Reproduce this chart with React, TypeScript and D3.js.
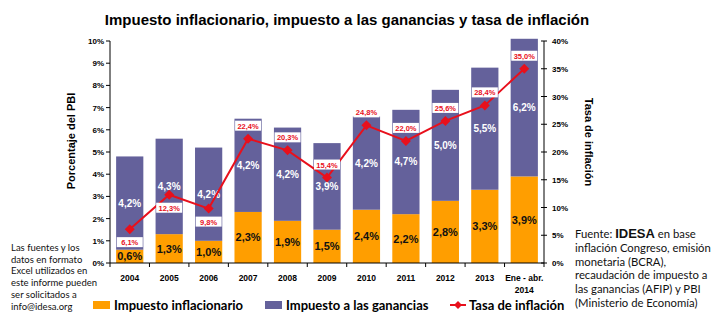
import React from "react";
import * as d3 from "d3";

const categories = ["2004", "2005", "2006", "2007", "2008", "2009", "2010", "2011", "2012", "2013", "Ene - abr.|2014"];
const impuestoInflacionario = [0.6, 1.3, 1.0, 2.3, 1.9, 1.5, 2.4, 2.2, 2.8, 3.3, 3.9];
const impuestoGanancias = [4.2, 4.3, 4.2, 4.2, 4.2, 3.9, 4.2, 4.7, 5.0, 5.5, 6.2];
const tasaInflacion = [6.1, 12.3, 9.8, 22.4, 20.3, 15.4, 24.8, 22.0, 25.6, 28.4, 35.0];
const inflLabelBelow = [true, true, true, false, false, false, false, false, false, false, false];
const leftTicks = [0, 1, 2, 3, 4, 5, 6, 7, 8, 9, 10];
const rightTicks = [0, 5, 10, 15, 20, 25, 30, 35, 40];
const noteLines = ["Las fuentes y los", "datos en formato", "Excel utilizados en", "este informe pueden", "ser solicitados a", "info@idesa.org"];
const sourceLines = ["inflación Congreso, emisión", "monetaria (BCRA),", "recaudación de impuesto a", "las ganancias (AFIP) y PBI", "(Ministerio de Economía)"];

const ORANGE = "#FF9E00";
const PURPLE = "#64619B";
const RED = "#E8101C";
const fmt = (v: number) => v.toFixed(1).replace(".", ",") + "%";

export default function App() {
  const W = 713, H = 324;
  const left = 110, right = 544, top = 41, bottom = 263;
  const x = d3.scaleBand<string>().domain(categories).range([left, right]).paddingInner(0.31).paddingOuter(0.155);
  const yL = d3.scaleLinear().domain([0, 10]).range([bottom, top]);
  const yR = d3.scaleLinear().domain([0, 40]).range([bottom, top]);
  const step = x.step();
  const bw = x.bandwidth();
  const cx = (c: string) => (x(c) as number) + bw / 2;
  const line = d3.line<number>().x((_, i) => cx(categories[i])).y((d) => yR(d));
  const arial = "'Liberation Sans', Arial, sans-serif";
  const cal = "Lato, 'Open Sans', sans-serif";

  return (
    <svg width={W} height={H} style={{ position: "absolute", left: 0, top: 0, background: "#fff" }}>
      <text x={347} y={25} textAnchor="middle" fontFamily={arial} fontWeight="bold" fontSize={15}>
        Impuesto inflacionario, impuesto a las ganancias y tasa de inflación
      </text>

      {/* bars */}
      {categories.map((c, i) => {
        const a = impuestoInflacionario[i];
        const b = impuestoGanancias[i];
        return (
          <g key={c}>
            <rect x={x(c)} y={yL(a)} width={bw} height={yL(0) - yL(a)} fill={ORANGE} />
            <rect x={x(c)} y={yL(a + b)} width={bw} height={yL(0) - yL(b)} fill={PURPLE} />
            <text x={cx(c)} y={yL(a / 2) + 4} textAnchor="middle" fontFamily={arial} fontWeight="bold" fontSize={11} fill="#111">
              {fmt(a)}
            </text>
            <text x={cx(c)} y={yL(a + b / 2) + 3.5} textAnchor="middle" fontFamily={arial} fontWeight="bold" fontSize={10} fill="#fff">
              {fmt(b)}
            </text>
          </g>
        );
      })}

      {/* axes */}
      <line x1={left} x2={left} y1={top} y2={bottom} stroke="#000" />
      <line x1={right} x2={right} y1={top} y2={bottom} stroke="#000" />
      <line x1={left} x2={right} y1={bottom} y2={bottom} stroke="#000" />
      {leftTicks.map((t) => (
        <g key={"l" + t}>
          <line x1={left - 4} x2={left} y1={yL(t)} y2={yL(t)} stroke="#000" />
          <text x={left - 6} y={yL(t) + 3} textAnchor="end" fontFamily={arial} fontWeight="bold" fontSize={8}>
            {t + "%"}
          </text>
        </g>
      ))}
      {rightTicks.map((t) => (
        <g key={"r" + t}>
          <line x1={right - 3} x2={right + 3} y1={yR(t)} y2={yR(t)} stroke="#000" />
          <text x={right + 8} y={yR(t) + 3} textAnchor="start" fontFamily={arial} fontWeight="bold" fontSize={8}>
            {t + "%"}
          </text>
        </g>
      ))}
      {d3.range(categories.length + 1).map((i) => (
        <line key={"b" + i} x1={left + i * step} x2={left + i * step} y1={bottom} y2={bottom + 4} stroke="#000" />
      ))}
      {categories.map((c) => {
        const parts = c.split("|");
        return parts.map((p, j) => (
          <text key={c + j} x={cx(c)} y={281 + j * 12} textAnchor="middle" fontFamily={arial} fontWeight="bold" fontSize={8.5}>
            {p}
          </text>
        ));
      })}

      <text transform={`translate(75,141) rotate(-90)`} textAnchor="middle" fontFamily={arial} fontWeight="bold" fontSize={11}>
        Porcentaje del PBI
      </text>
      <text transform={`translate(585,142) rotate(90)`} textAnchor="middle" fontFamily={arial} fontWeight="bold" fontSize={11}>
        Tasa de inflación
      </text>

      {/* inflation line */}
      <path d={line(tasaInflacion) || ""} fill="none" stroke={RED} strokeWidth={2} />
      {tasaInflacion.map((v, i) => {
        const px = cx(categories[i]);
        const py = yR(v);
        const ly = inflLabelBelow[i] ? py + 13 : py - 13;
        return (
          <g key={"p" + i}>
            <path d={`M${px},${py - 5}L${px + 5},${py}L${px},${py + 5}L${px - 5},${py}Z`} fill={RED} />
            <rect x={px - 13} y={ly - 5} width={26} height={10} fill="#fff" />
            <text x={px} y={ly + 3} textAnchor="middle" fontFamily={arial} fontWeight="bold" fontSize={7.5} fill={RED}>
              {fmt(v)}
            </text>
          </g>
        );
      })}

      {/* legend */}
      <rect x={93} y={301} width={17} height={8} fill={ORANGE} />
      <text x={114} y={309.5} fontFamily={cal} fontWeight="bold" fontSize={13}>Impuesto inflacionario</text>
      <rect x={265} y={301} width={17} height={8} fill={PURPLE} />
      <text x={286} y={309.5} fontFamily={cal} fontWeight="bold" fontSize={13}>Impuesto a las ganancias</text>
      <line x1={450} x2={466} y1={305} y2={305} stroke={RED} strokeWidth={2} />
      <path d="M458,301L462,305L458,309L454,305Z" fill={RED} />
      <text x={469} y={309.5} fontFamily={cal} fontWeight="bold" fontSize={13}>Tasa de inflación</text>

      {/* notes */}
      {noteLines.map((l, i) => (
        <text key={"n" + i} x={11} y={251 + i * 11.7} fontFamily={cal} fontSize={9.5} fill="#111">
          {l}
        </text>
      ))}
      <text x={575} y={238} fontFamily={cal} fontSize={11.3} fill="#111">
        Fuente: <tspan fontFamily={arial} fontWeight="bold" fontSize={13}>IDESA</tspan> en base
      </text>
      {sourceLines.map((l, i) => (
        <text key={"s" + i} x={575} y={252 + i * 13.7} fontFamily={cal} fontSize={11.3} fill="#111">
          {l}
        </text>
      ))}
    </svg>
  );
}
